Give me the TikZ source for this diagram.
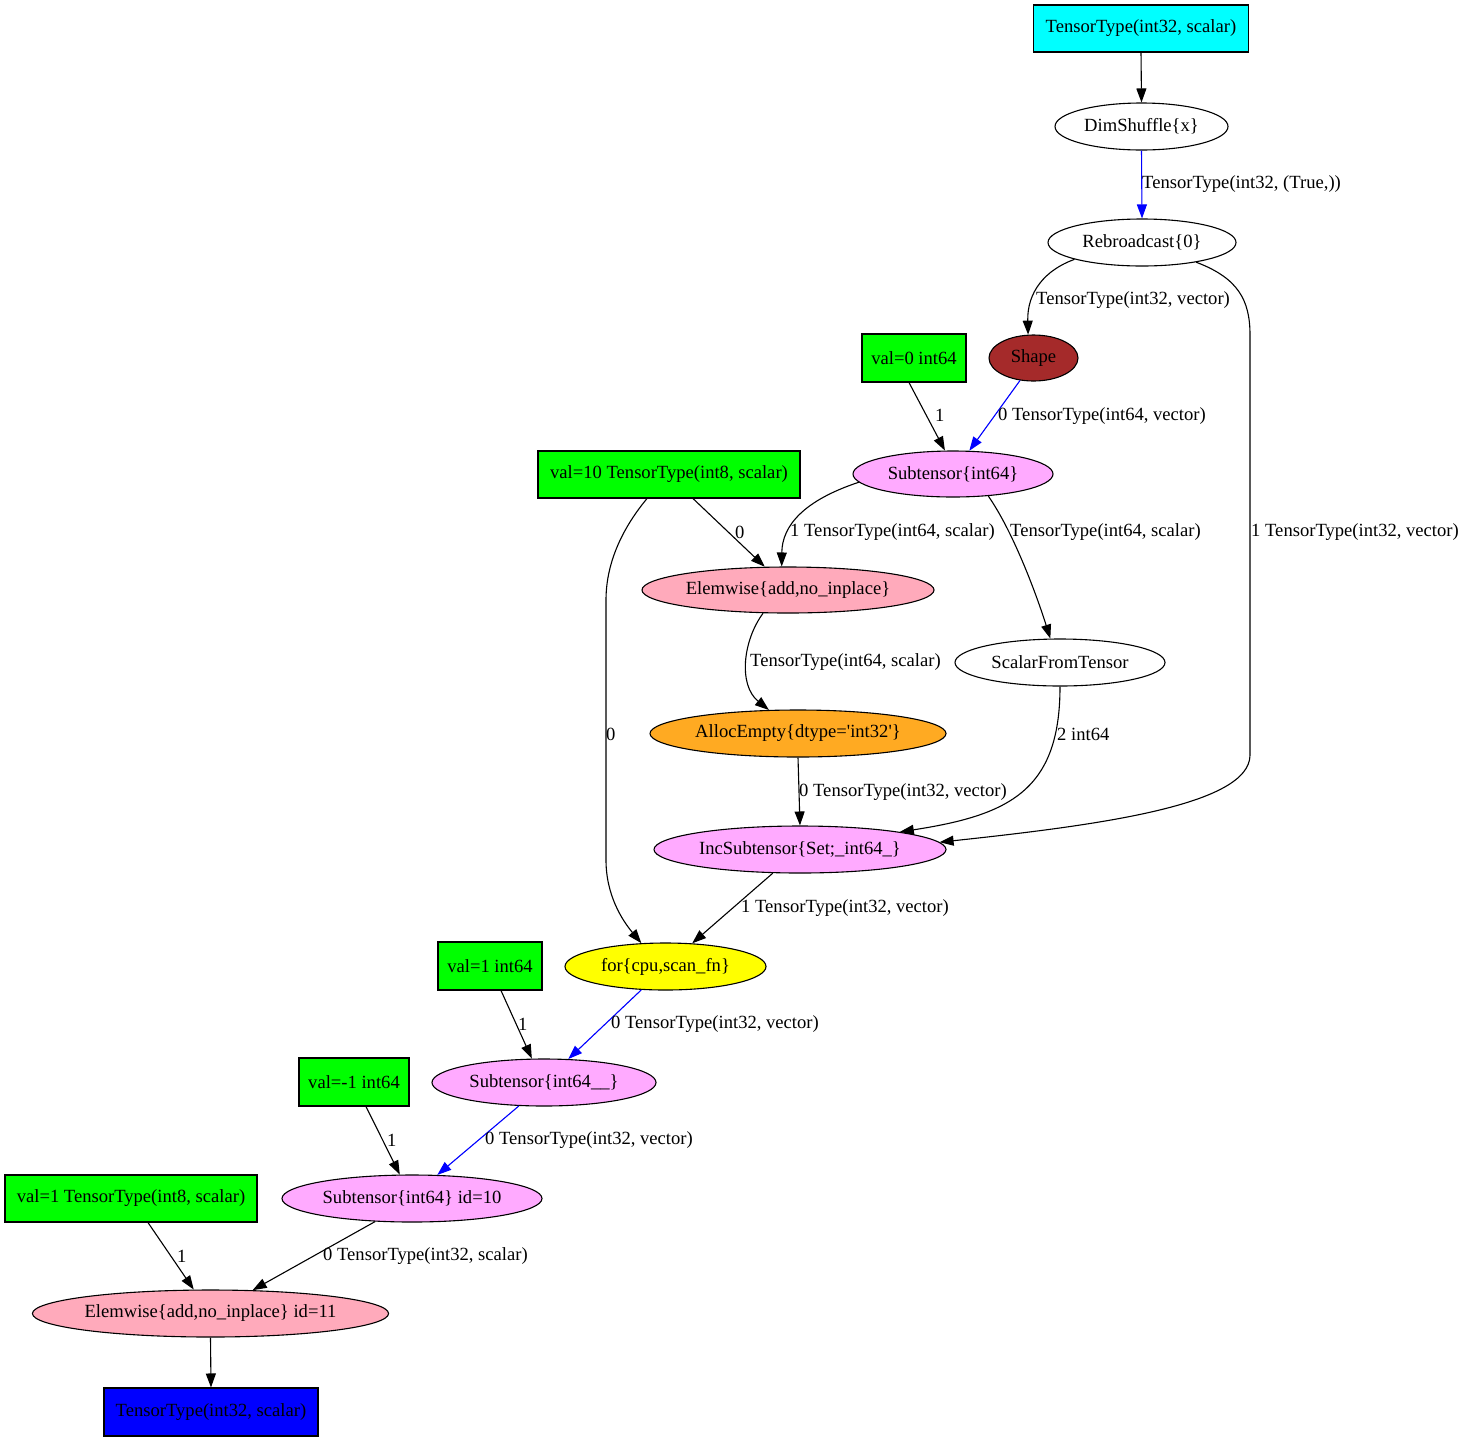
\documentclass[tikz,border=0pt]{standalone}
\usepackage{fontspec}
\setmainfont{Liberation Serif}[Ligatures=TeXOff]
\usetikzlibrary{shapes.geometric,arrows.meta}
\definecolor{subpink}{HTML}{FFAAFF}
\definecolor{elempink}{HTML}{FFAABB}
\definecolor{allocorange}{HTML}{FFAA22}
\definecolor{shapebrown}{HTML}{A52A2A}
\definecolor{valgreen}{HTML}{00FF00}
\definecolor{incyan}{HTML}{00FFFF}
\definecolor{scanyellow}{HTML}{FFFF00}
\definecolor{outblue}{HTML}{0000FF}
\begin{document}
\begin{tikzpicture}[x=1pt,y=-1pt,
  every node/.style={font=\fontsize{18.6}{22}\selectfont},
  box/.style={draw=black,line width=1.1pt,rectangle,inner sep=0pt},
  ell/.style={draw=black,line width=1.1pt,ellipse,inner sep=0pt,minimum height=47pt},
  lab/.style={anchor=west,inner sep=0pt},
  ed/.style={line width=1.1pt,-{Triangle[length=14pt,width=10pt]}},
  bed/.style={ed,draw=outblue,fill=outblue}]
\useasboundingbox (0,0) rectangle (1469,1441);

% nodes
\node[box,fill=incyan,minimum width=215pt,minimum height=47pt] (in) at (1141,28.5) {TensorType(int32, scalar)};
\node[ell,fill=white,minimum width=173pt] (dim) at (1141.5,126.5) {DimShuffle\{x\}};
\node[ell,fill=white,minimum width=188pt] (reb) at (1142,242.5) {Rebroadcast\{0\}};
\node[ell,fill=shapebrown,minimum width=89pt,minimum height=46pt] (shape) at (1033.5,358) {Shape};
\node[box,fill=valgreen,minimum width=104pt,minimum height=48pt] (v0) at (914,358) {val=0 int64};
\node[ell,fill=subpink,minimum width=200pt,minimum height=46pt] (sub) at (953,474) {Subtensor\{int64\}};
\node[box,fill=valgreen,minimum width=262pt,minimum height=47pt] (v10) at (669,474.5) {val=10 TensorType(int8, scalar)};
\node[ell,fill=elempink,minimum width=292pt,minimum height=46pt] (elem) at (788,590) {Elemwise\{add,no\_inplace\}};
\node[ell,fill=white,minimum width=210pt] (sft) at (1060,662.5) {ScalarFromTensor};
\node[ell,fill=allocorange,minimum width=296pt] (alloc) at (798,733.5) {AllocEmpty\{dtype='int32'\}};
\node[ell,fill=subpink,minimum width=292pt] (inc) at (800,849.5) {IncSubtensor\{Set;\_int64\_\}};
\node[ell,fill=scanyellow,minimum width=201pt] (for) at (665.5,966.5) {for\{cpu,scan\_fn\}};
\node[box,fill=valgreen,minimum width=104pt,minimum height=48pt] (v1) at (490,966) {val=1 int64};
\node[ell,fill=subpink,minimum width=224pt] (s2) at (544,1082.5) {Subtensor\{int64\_\_\}};
\node[box,fill=valgreen,minimum width=110pt,minimum height=48pt] (vm1) at (354,1082) {val=-1 int64};
\node[ell,fill=subpink,minimum width=260pt] (s3) at (412,1198.5) {Subtensor\{int64\} id=10};
\node[box,fill=valgreen,minimum width=252pt,minimum height=47pt] (v1b) at (131,1198.5) {val=1 TensorType(int8, scalar)};
\node[ell,fill=elempink,minimum width=355pt] (e11) at (210.5,1313.5) {Elemwise\{add,no\_inplace\} id=11};
\node[box,fill=outblue,minimum width=214pt,minimum height=48pt] (out) at (211,1412) {TensorType(int32, scalar)};

% edges
\draw[ed] (in.south) -- (dim.north);
\draw[bed] (dim.south) -- (reb.north);
\draw[ed] (reb.194) .. controls (1045,270) and (1027,292) .. (shape.103);
\draw[ed] (reb.340) .. controls (1238,278) and (1250,300) .. (1250,335)
  -- (1250,755) .. controls (1250,805) and (1100,825) .. (inc.3);
\draw[ed] ([xshift=-5pt]v0.south) -- (sub.109);
\draw[bed] (shape.239) -- (sub.55);
\draw[ed] ([xshift=24pt]v10.south) -- (elem.135);
\draw[ed] ([xshift=-22pt]v10.south) .. controls (625,525) and (606,560) .. (606,600)
  -- (606,860) .. controls (606,895) and (622,920) .. (for.136);
\draw[ed] (sub.185) .. controls (805,500) and (782,525) .. (elem.105);
\draw[ed] (sub.328) .. controls (1012,530) and (1035,590) .. (sft.112);
\draw[ed] (elem.223) .. controls (743,640) and (738,685) .. (alloc.141);
\draw[ed] (alloc.south) -- (inc.north);
\draw[ed] (sft.south) .. controls (1060,790) and (1010,815) .. (inc.10);
\draw[ed] (inc.221) -- (for.41);
\draw[ed] ([xshift=11pt]v1.south) -- (s2.117);
\draw[bed] (for.224) -- (s2.44);
\draw[ed] ([xshift=12pt]vm1.south) -- (s3.117);
\draw[bed] (s2.223) -- (s3.43);
\draw[ed] ([xshift=17pt]v1b.south) -- (e11.125);
\draw[ed] (s3.212) -- (e11.29);
\draw[ed] (e11.south) -- (out.north);

% edge labels
\node[lab] (l1) at (1142,184) {TensorType(int32, (True,))};
\node[lab] (l2) at (1036,300) {TensorType(int32, vector)};
\node[lab] (l3) at (1251,532) {1 TensorType(int32, vector)};
\node[lab] (l4) at (935,415) {1};
\node[lab] (l5) at (998,416) {0 TensorType(int64, vector)};
\node[lab] (l6) at (735,532) {0};
\node[lab] (l7) at (790,532) {1 TensorType(int64, scalar)};
\node[lab] (l8) at (1010,532) {TensorType(int64, scalar)};
\node[lab] (l9) at (750,662) {TensorType(int64, scalar)};
\node[lab] (l10) at (606,734) {0};
\node[lab] (l11) at (1057,734) {2 int64};
\node[lab] (l12) at (799,792) {0 TensorType(int32, vector)};
\node[lab] (l13) at (741,908) {1 TensorType(int32, vector)};
\node[lab] (l14) at (518,1024) {1};
\node[lab] (l15) at (611,1024) {0 TensorType(int32, vector)};
\node[lab] (l16) at (387,1140) {1};
\node[lab] (l17) at (485,1140) {0 TensorType(int32, vector)};
\node[lab] (l18) at (177,1256) {1};
\node[lab] (l19) at (323,1256) {0 TensorType(int32, scalar)};
\end{tikzpicture}
\end{document}
